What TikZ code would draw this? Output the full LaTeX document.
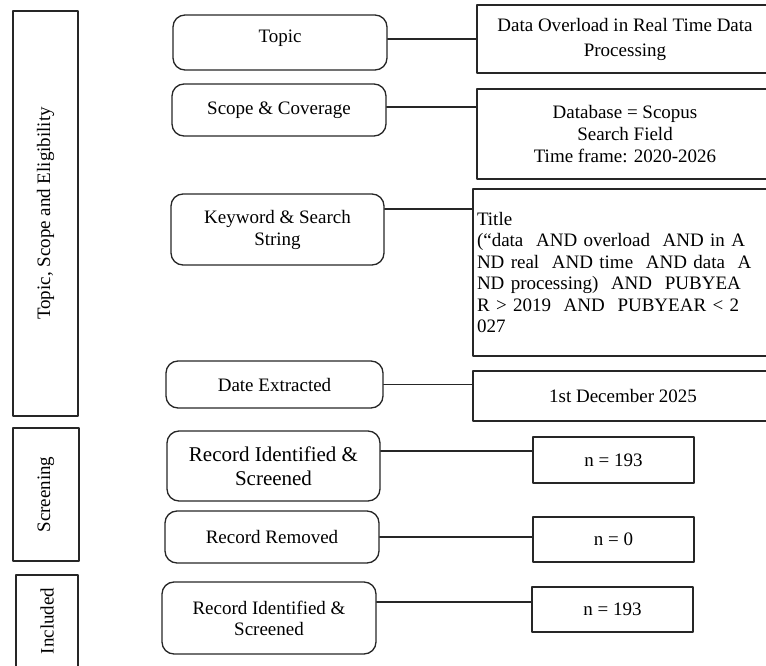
\documentclass[tikz,border=0pt]{standalone}
\usepackage{fontspec}
\setmainfont{Liberation Serif}
\usetikzlibrary{calc}

\tikzset{
  stage/.style={draw=black!85, line width=1pt, inner sep=0pt},
  rbox/.style={draw=black!85, line width=1pt, rounded corners=9pt, align=center, inner sep=2pt},
  sbox/.style={draw=black!85, line width=1pt, align=center, inner sep=3pt},
  link/.style={draw=black!85, line width=1pt}
}

\begin{document}
\begin{tikzpicture}[x=0.75pt, y=-0.75pt, line cap=round, line join=round,
    every node/.style={font=\fontsize{14.25}{17}\selectfont, text=black}]

  % ===== Frame (pixel grid of the page) =====
  \useasboundingbox (0,0) rectangle (766,665);
  \clip (0,0) rectangle (766,665);

  % ===== Stages (left column) =====
  \node[stage, rotate=90, minimum width=303.75pt, minimum height=48.75pt] (tse) at (45.5,213.5) {Topic, Scope and Eligibility};
  \node[stage, rotate=90, minimum width=99.75pt, minimum height=49.5pt] (scr) at (46,494.5) {Screening};
  \node[stage, rotate=90, minimum width=69pt, minimum height=46.5pt] (inc) at (47,621) {Included};

  % ===== Steps (middle column) =====
  \node[rbox, minimum width=160.5pt, minimum height=41.25pt, text depth=9pt] (topic) at (280,42.5) {Topic};
  \node[rbox, minimum width=160.5pt, minimum height=39pt] (scope) at (279,110) {Scope \& Coverage};
  \node[rbox, minimum width=159.75pt, minimum height=53.25pt, font=\fontsize{14.25}{16.5}\selectfont] (kw) at (277.5,229.5) {Keyword \& Search\\String};
  \node[rbox, minimum width=162.75pt, minimum height=35.25pt] (date) at (274.5,384.5) {Date Extracted};
  \node[rbox, minimum width=159.75pt, minimum height=52.5pt, font=\fontsize{15.75}{18}\selectfont] (rec1) at (273.5,466) {Record Identified \&\\Screened};
  \node[rbox, minimum width=160.5pt, minimum height=39pt] (rem) at (272,537) {Record Removed};
  \node[rbox, minimum width=160.5pt, minimum height=54pt, font=\fontsize{14.25}{15.75}\selectfont] (rec2) at (269,618) {Record Identified \&\\Screened};

  % ===== Details (right column) =====
  \node[sbox, minimum width=222pt, minimum height=51pt, font=\fontsize{14.25}{18.75}\selectfont] (over) at (625,39) {Data Overload in Real Time Data\\Processing};
  \node[sbox, minimum width=222pt, minimum height=67.5pt, font=\fontsize{14.25}{16.5}\selectfont] (db) at (625,134) {Database = Scopus\\Search Field\\Time frame: 2020-2026};
  \node[sbox, minimum width=225pt, minimum height=125.25pt, align=left, text width=219pt, inner xsep=3pt,
        font=\fontsize{14.25}{16.1}\selectfont] (title) at (623,272.5)
    {Title\\
     \makebox[201pt][s]{(“data\ \ AND overload\ \ AND in A}\\
     \makebox[201.75pt][s]{ND real\ \ AND time\ \ AND data\ \ A}\\
     \makebox[200.25pt][s]{ND processing)\ \ AND\ \ PUBYEA}\\
     \makebox[209.25pt][s]{R > 2019\ \ AND\ \ PUBYEAR < 2}\\
     027};
  \node[sbox, minimum width=225pt, minimum height=37.5pt] (day) at (623,396) {1st December 2025};
  \node[sbox, minimum width=120.75pt, minimum height=34.5pt] (n1) at (613.5,460) {n = 193};
  \node[sbox, minimum width=120.75pt, minimum height=33.75pt] (n0) at (613.5,539.5) {n = 0};
  \node[sbox, minimum width=120.75pt, minimum height=33.75pt] (n2) at (612.5,609.5) {n = 193};

  % ===== Connectors =====
  \coordinate (scopeout) at ([yshift=2.25pt]scope.east);
  \coordinate (kwout)    at ([yshift=15.4pt]kw.east);
  \coordinate (rec1out)  at ([yshift=11.25pt]rec1.east);
  \coordinate (rec2out)  at ([yshift=12pt]rec2.east);

  \draw[link] (topic.east |- over.west) -- (over.west);
  \draw[link] (scopeout) -- (scopeout -| db.west);
  \draw[link] (kwout) -- (kwout -| title.west);
  \draw[link] (date.east) -- (date.east -| day.west);
  \draw[link] (rec1out) -- (rec1out -| n1.west);
  \draw[link] (rem.east) -- (rem.east -| n0.west);
  \draw[link] (rec2out) -- (rec2out -| n2.west);

\end{tikzpicture}
\end{document}
